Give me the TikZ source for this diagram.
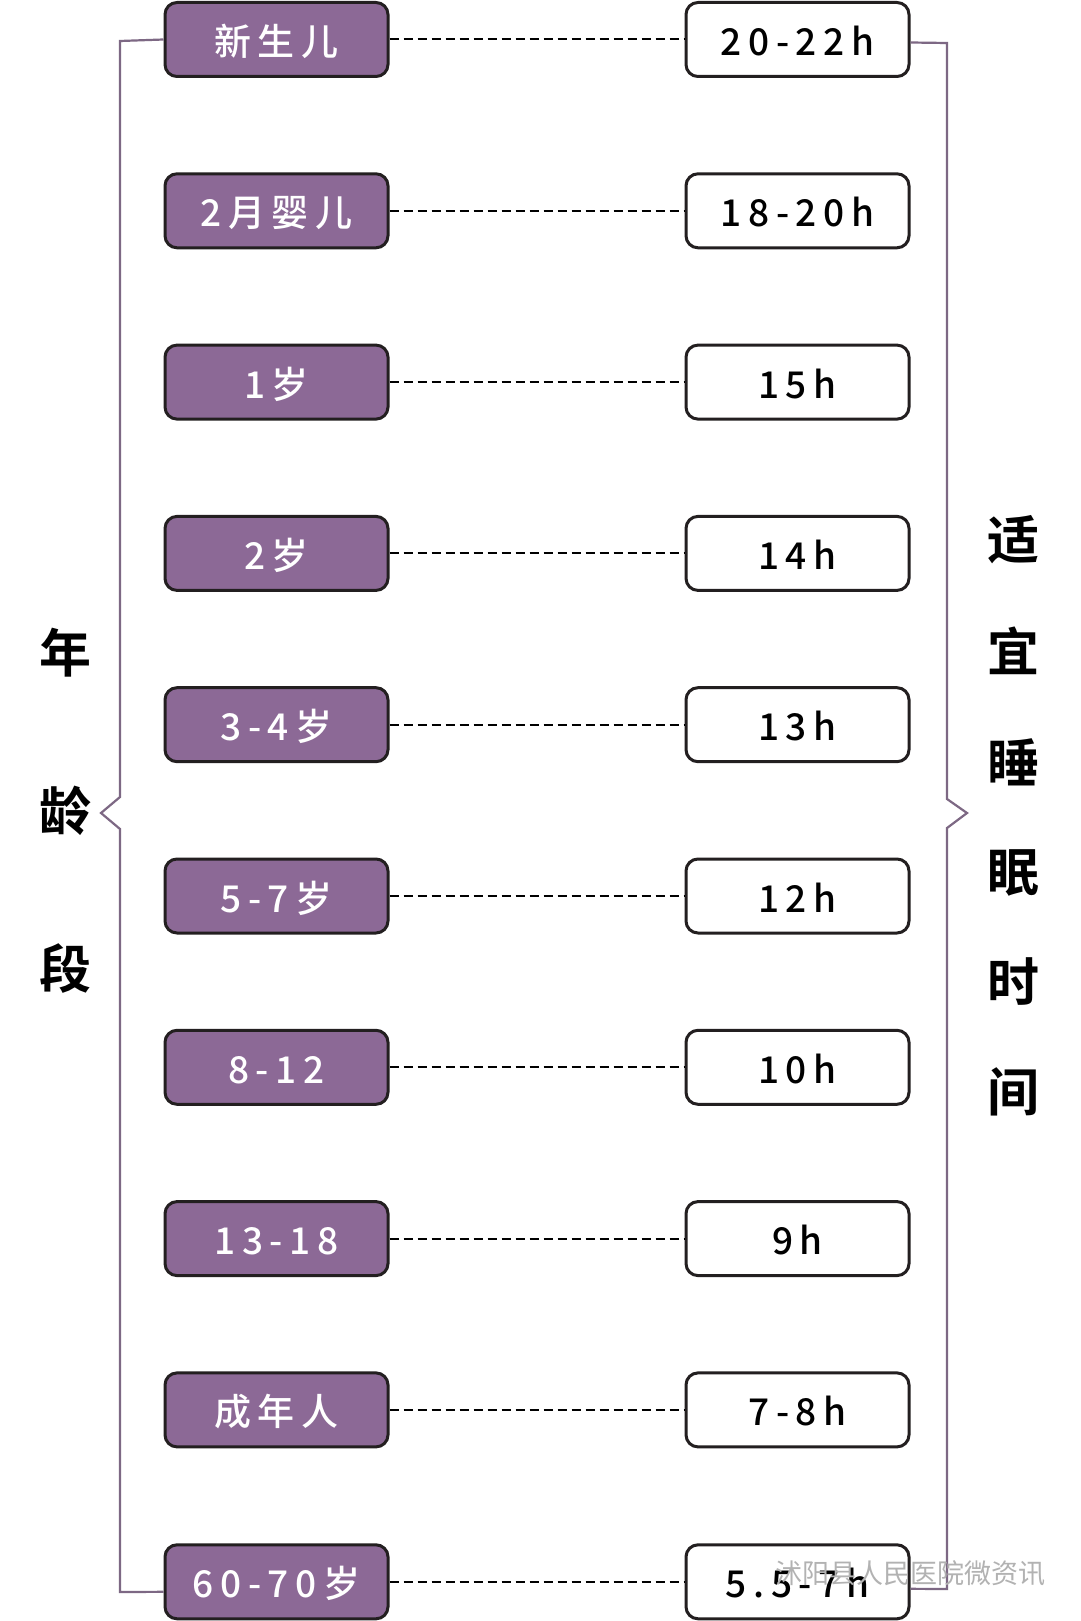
\documentclass[tikz,border=0pt]{standalone}
\usepackage{fontspec}
\setmainfont{Noto Sans CJK SC}
\newfontfamily\boxfont[LetterSpace=18]{Noto Sans CJK SC Medium}
\newfontfamily\sidefont{Noto Sans CJK SC Bold}
\usepackage{tikz}
\definecolor{agefill}{HTML}{8C6996}
\definecolor{bracketcol}{HTML}{7D6884}
\definecolor{boxedge}{HTML}{231F20}
\tikzset{
  agebox/.style={draw=boxedge, line width=3pt, fill=agefill, rounded corners=12pt,
    minimum width=223pt, minimum height=74pt, inner sep=0pt, text=white,
    text height=35pt, text depth=3pt,
    font=\boxfont\fontsize{37}{37}\selectfont},
  hourbox/.style={agebox, fill=white, text=black},
  link/.style={dashed, dash pattern=on 9pt off 5pt, line width=2pt},
  bracket/.style={draw=bracketcol, line width=2.2pt},
  sidetext/.style={font=\sidefont\fontsize{52}{52}\selectfont, inner sep=0pt}
}
\begin{document}
\begin{tikzpicture}[x=1pt,y=-1pt]
\useasboundingbox[fill=white] (0,0) rectangle (1080,1621);
\node[agebox] (a1) at (276.5,39.5) {新生儿};
\node[agebox] (a2) at (276.5,210.8) {2月婴儿};
\node[agebox] (a3) at (276.5,382.1) {1岁};
\node[agebox] (a4) at (276.5,553.4) {2岁};
\node[agebox] (a5) at (276.5,724.7) {3-4岁};
\node[agebox] (a6) at (276.5,896.0) {5-7岁};
\node[agebox] (a7) at (276.5,1067.3) {8-12};
\node[agebox] (a8) at (276.5,1238.6) {13-18};
\node[agebox] (a9) at (276.5,1409.9) {成年人};
\node[agebox] (a10) at (276.5,1581.8) {60-70岁};
\node[hourbox] (h1) at (797.5,39.5) {20-22h};
\node[hourbox] (h2) at (797.5,210.8) {18-20h};
\node[hourbox] (h3) at (797.5,382.1) {15h};
\node[hourbox] (h4) at (797.5,553.4) {14h};
\node[hourbox] (h5) at (797.5,724.7) {13h};
\node[hourbox] (h6) at (797.5,896.0) {12h};
\node[hourbox] (h7) at (797.5,1067.3) {10h};
\node[hourbox] (h8) at (797.5,1238.6) {9h};
\node[hourbox] (h9) at (797.5,1409.9) {7-8h};
\node[hourbox] (h10) at (797.5,1581.8) {5.5-7h};
\draw[link] (a1) -- (h1);
\draw[link] (a2) -- (h2);
\draw[link] (a3) -- (h3);
\draw[link] (a4) -- (h4);
\draw[link] (a5) -- (h5);
\draw[link] (a6) -- (h6);
\draw[link] (a7) -- (h7);
\draw[link] (a8) -- (h8);
\draw[link] (a9) -- (h9);
\draw[link] (a10) -- (h10);
\draw[bracket] (a1.west) -- (120,41) -- (120,797) -- (101,813) -- (120,829) -- (120,1592) -- ([yshift=-10pt]a10.west);
\draw[bracket] ([yshift=-3pt]h1.east) -- (947,43) -- (947,799) -- (967,813) -- (947,828) -- (947,1589) -- ([yshift=-7pt]h10.east);
\node[sidetext] (n1) at (65,653) {年};
\node[sidetext] (n2) at (65,811) {龄};
\node[sidetext] (n3) at (65,969) {段};
\node[sidetext] (t1) at (1013,540) {适};
\node[sidetext] (t2) at (1013,651) {宜};
\node[sidetext] (t3) at (1013,762) {睡};
\node[sidetext] (t4) at (1013,873) {眠};
\node[sidetext] (t5) at (1013,982) {时};
\node[sidetext] (t6) at (1013,1092) {间};
\node[text=gray!60, font=\fontsize{27}{27}\selectfont, inner sep=0pt] (wm) at (910,1573) {沭阳县人民医院微资讯};
\end{tikzpicture}
\end{document}
